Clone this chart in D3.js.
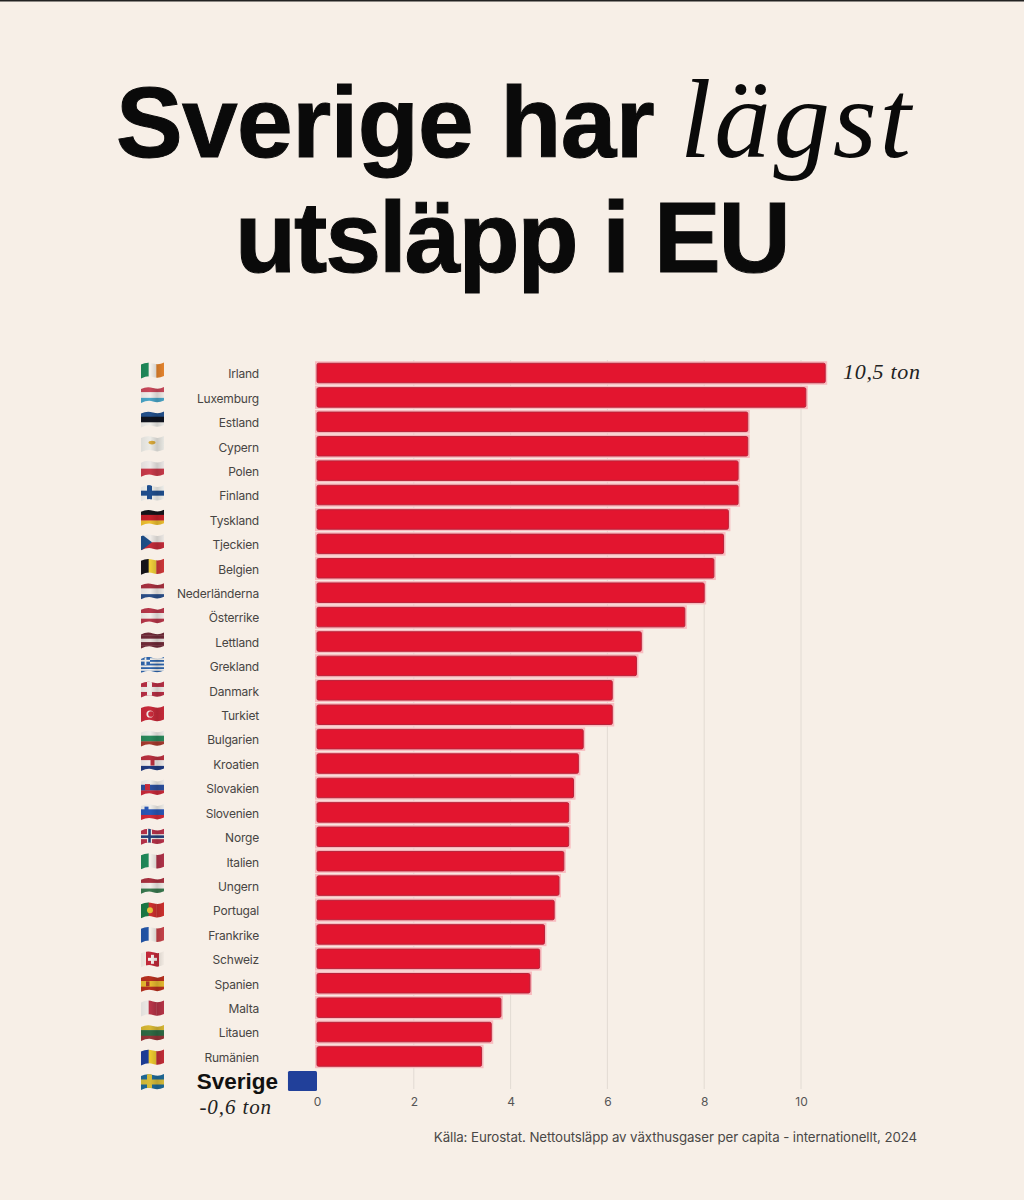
<!DOCTYPE html>
<html lang="sv"><head><meta charset="utf-8">
<script src="https://cdn.jsdelivr.net/npm/d3@7"></script>
<style>html,body{margin:0;padding:0;background:#f7efe7}svg{display:block}</style>
</head><body><div id="chart"></div>
<script>
const countries=["Irland","Luxemburg","Estland","Cypern","Polen","Finland","Tyskland","Tjeckien","Belgien","Nederländerna","Österrike","Lettland","Grekland","Danmark","Turkiet","Bulgarien","Kroatien","Slovakien","Slovenien","Norge","Italien","Ungern","Portugal","Frankrike","Schweiz","Spanien","Malta","Litauen","Rumänien"];
const emissions=[10.5,10.1,8.9,8.9,8.7,8.7,8.5,8.4,8.2,8.0,7.6,6.7,6.6,6.1,6.1,5.5,5.4,5.3,5.2,5.2,5.1,5.0,4.9,4.7,4.6,4.4,3.8,3.6,3.4];
const swedenName="Sverige";
const swedenValue=-0.6;
const xTicks=[0,2,4,6,8,10];
const titleLine1=["Sverige har","lägst"];
const titleLine2="utsläpp i EU";
const sourceText="Källa: Eurostat. Nettoutsläpp av växthusgaser per capita - internationellt, 2024";
// flag designs: v = vertical bands, h = horizontal bands, n = Nordic cross [field, outer, inner]
const flags=[["v","#1f8a5a","#f4f0ea","#e8862e"],["h","#c9485a","#f2eeea","#4aa6c8"],["h","#24518c","#10141f","#efeeea"],["h","#ecebe6","#ecebe6"],["h","#eeeae8","#c93a4a"],["n","#f2f2ee","#1f4f8f","#1f4f8f"],["h","#15151a","#c8202a","#eec030"],["c","#f0ece8","#c42b3a","#1f4f8a"],["v","#15151a","#f0cf3a","#d0383a"],["h","#a8303f","#f2eeea","#2a4f8a"],["h","#b8374a","#f3eeea","#b8374a"],["h","#702a38","#702a38","#e8e2de","#702a38","#702a38"],["g","#2f66ad","#f4f2ee"],["n","#b92f45","#f2eeea","#f2eeea"],["h","#c92a3a","#c92a3a"],["h","#f1eeea","#2a8a5c","#a83a2e"],["h","#b9303f","#f0ecea","#1f3a80"],["h","#f0eeea","#2a4f9f","#c92a3a"],["h","#f0eeea","#2a58b8","#d42a3a"],["n","#b9324a","#f2eeea","#24407a"],["v","#1f8a5a","#f4f0ea","#b2334a"],["h","#a8303f","#f2eeea","#3a7a50"],["v","#1a7a45","#cf302e","#cf302e"],["v","#2456a8","#f4f0ea","#c8434a"],["s","#c42a3a","#f7f2ee"],["h","#b8301f","#e8bc30","#b8301f"],["v","#efece8","#b83448","#b83448"],["h","#d8b834","#2e6a44","#983438"],["v","#1f3f9a","#eec92e","#c42d38"]];
const swedenFlag=["n","#1f6a98","#d8bd3a","#d8bd3a"];

const width=1024,height=1200,rowH=24.41,barH=19.5;
const x=d3.scaleLinear().domain([0,10]).range([317,801]);
const y=d3.scaleLinear().domain([0,29]).range([373,373+29*rowH]);
const flagY=d3.scaleLinear().domain([0,29]).range([370,1081.5]);
const svg=d3.select("#chart").append("svg").attr("width",width).attr("height",height);
const SANS="Inter,'Liberation Sans',sans-serif",HEAD="'Liberation Sans',Arial,sans-serif",SERIF="'Liberation Serif',serif";

svg.append("rect").attr("width",width).attr("height",height).attr("fill","#f7efe7");
svg.append("rect").attr("width",width).attr("height",1.5).attr("fill","#222");

svg.append("text").attr("x",116).attr("y",157).attr("fill","#0a0a0a").attr("stroke","#0a0a0a").attr("stroke-width",1).attr("font-family",HEAD).attr("font-weight",700).attr("font-size",100).attr("letter-spacing",-.6).text(titleLine1[0]);
svg.append("text").attr("x",680).attr("y",157).attr("fill","#0a0a0a").attr("font-family",SERIF).attr("font-style","italic").attr("font-size",113).attr("letter-spacing",2.8).text(titleLine1[1]);
svg.append("text").attr("x",235).attr("y",272).attr("fill","#0a0a0a").attr("stroke","#0a0a0a").attr("stroke-width",1).attr("font-family",HEAD).attr("font-weight",700).attr("font-size",100).attr("letter-spacing",-2).text(titleLine2);

// grid + axis
svg.append("g").selectAll("line").data(xTicks.filter(d=>d>0)).join("line")
 .attr("x1",d=>x(d)).attr("x2",d=>x(d)).attr("y1",360).attr("y2",1089).attr("stroke","#e2dbd3").attr("stroke-width",1);
const axis=svg.append("g").attr("transform","translate(0,1097)").call(d3.axisBottom(x).tickValues(xTicks).tickSize(0).tickPadding(0).tickFormat(d3.format("d")));
axis.select(".domain").remove();
axis.selectAll("text").attr("font-family",SANS).attr("font-size",12).attr("fill","#555");

// bars
const bars=svg.append("g");
bars.selectAll("rect.halo").data(emissions).join("rect").attr("class","halo")
 .attr("x",x(0)).attr("y",(d,i)=>y(i)-barH/2).attr("width",d=>x(d)-x(0)).attr("height",barH)
 .attr("fill","none").attr("stroke","#f8bcc0").attr("stroke-width",4);
bars.selectAll("rect.bar").data(emissions).join("rect").attr("class","bar")
 .attr("x",x(0)).attr("y",(d,i)=>y(i)-barH/2).attr("width",d=>x(d)-x(0)).attr("height",barH).attr("rx",1.5)
 .attr("fill","#e3152f").attr("stroke","#b9233a").attr("stroke-width",1);
svg.append("rect").attr("x",x(swedenValue)).attr("y",y(29)-10).attr("width",x(0)-x(swedenValue)).attr("height",20).attr("rx",1.5).attr("fill","#21409a");

// labels
svg.append("g").selectAll("text").data(countries).join("text")
 .attr("x",259).attr("y",(d,i)=>y(i)+1).attr("dy","0.36em").attr("text-anchor","end")
 .attr("font-family",SANS).attr("font-size",12).attr("letter-spacing",-.2).attr("fill","#474543").text(d=>d);
svg.append("text").attr("x",278).attr("y",y(29)).attr("dy","0.36em").attr("text-anchor","end").attr("font-family",HEAD).attr("font-weight",700).attr("font-size",22.5).attr("fill","#111").text(swedenName);
svg.append("text").attr("x",272).attr("y",1114).attr("text-anchor","end").attr("font-family",SERIF).attr("font-style","italic").attr("font-size",21).attr("letter-spacing",.9).attr("fill","#222").text("-0,6 ton");
svg.append("text").attr("x",843).attr("y",379).attr("font-family",SERIF).attr("font-style","italic").attr("font-size",22).attr("letter-spacing",.7).attr("fill","#222").text("10,5 ton");
svg.append("text").attr("x",917).attr("y",1142).attr("text-anchor","end").attr("font-family",SANS).attr("font-size",13.3).attr("letter-spacing",-.1).attr("fill","#4a4846").text(sourceText);

// flags
const fw=23,fh=16;
const defs=svg.append("defs");
defs.append("clipPath").attr("id","wave").append("path").attr("d","M0,2.5 Q6,-0.5 12,1.5 T23,0.5 V14 Q17,17 12,15 T0,16.5 Z");
const sg=defs.append("linearGradient").attr("id","shade").attr("x1",0).attr("x2",1).attr("y1",0).attr("y2",0);
[[0,.06],[.4,0],[.7,.14],[1,.02]].forEach(s=>sg.append("stop").attr("offset",s[0]).attr("stop-color","#000").attr("stop-opacity",s[1]));
function drawFlag(g,f){
 const kind=f[0],cols=f.slice(1);
 const r=(a,b,w,h,c)=>g.append("rect").attr("x",a).attr("y",b).attr("width",w).attr("height",h).attr("fill",c);
 if(kind==="v") cols.forEach((c,i)=>r(i*fw/3,0,fw/3+.3,fh+1,c));
 if(kind==="h") cols.forEach((c,i)=>r(0,i*(fh+1)/cols.length,fw,(fh+1)/cols.length+.3,c));
 if(kind==="n"){r(0,0,fw,fh+1,cols[0]);r(6,0,5,fh+1,cols[1]);r(0,6,fw,5,cols[1]);r(7.2,0,2.6,fh+1,cols[2]);r(0,7.2,fw,2.6,cols[2]);}
 if(kind==="c"){r(0,0,fw,8.5,cols[0]);r(0,8.5,fw,8.5,cols[1]);g.append("path").attr("d","M0,0L11,8.5L0,17Z").attr("fill",cols[2]);}
 if(kind==="g"){r(0,0,fw,fh+1,cols[1]);for(let i=0;i<5;i++)r(0,i*3.6,fw,1.8,cols[0]);r(0,0,9,8.5,cols[0]);r(3.6,0,1.8,8.5,cols[1]);r(0,3.4,9,1.8,cols[1]);}
 if(kind==="s"){r(5,0,13,fh+1,cols[0]);r(10,4,3,9,cols[1]);r(7,7,9,3,cols[1]);}
}
const flagG=svg.append("g").selectAll("g").data(flags.concat([swedenFlag])).join("g")
 .attr("transform",(d,i)=>`translate(141,${flagY(i)-8})`);
flagG.each(function(d,i){
 const o=d3.select(this).append("g").attr("clip-path","url(#wave)");
 drawFlag(o,d);
 if(i===3){o.append("ellipse").attr("cx",11).attr("cy",7).attr("rx",3.5).attr("ry",1.8).attr("fill","#d8a83a");}
 if(i===14){o.append("circle").attr("cx",9).attr("cy",8.5).attr("r",3.6).attr("fill","#f2eeea");o.append("circle").attr("cx",10).attr("cy",8.5).attr("r",2.8).attr("fill","#c92a3a");}
 if(i===22){o.append("circle").attr("cx",9).attr("cy",8.5).attr("r",3).attr("fill","#e8c43a");}
 if(i===16){o.append("rect").attr("x",9.5).attr("y",5).attr("width",4).attr("height",6).attr("fill","#b9303f");}
 if(i===17){o.append("rect").attr("x",4).attr("y",5).attr("width",5).attr("height",6).attr("fill","#c92a3a");}
 if(i===18){o.append("rect").attr("x",3.5).attr("y",3).attr("width",4).attr("height",4).attr("fill","#2a58b8");}
 if(i===25){o.append("rect").attr("x",5).attr("y",6).attr("width",3.5).attr("height",5).attr("fill","#a8342a");}
 o.append("rect").attr("width",fw).attr("height",fh+1).attr("fill","url(#shade)");
});
</script></body></html>
